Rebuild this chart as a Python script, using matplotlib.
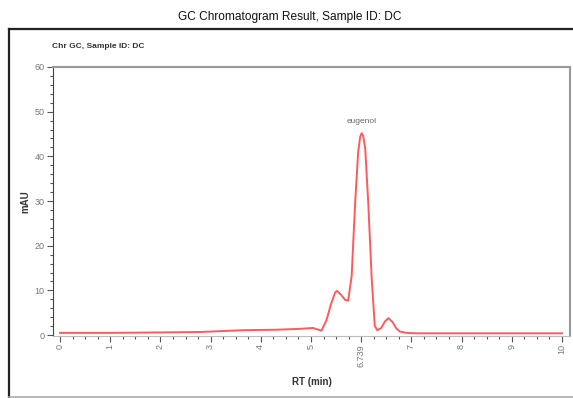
import matplotlib.pyplot as plt
from matplotlib.lines import Line2D
from matplotlib.ticker import MultipleLocator

# retention time (min) and signal (mAU)
rt = [0.0, 1.0, 2.0, 2.8, 3.65, 4.3, 4.78, 5.04, 5.12, 5.21, 5.31, 5.4, 5.48,
      5.52, 5.6, 5.68, 5.74, 5.81, 5.88, 5.94, 5.98, 6.01, 6.04, 6.08, 6.14,
      6.21, 6.27, 6.32, 6.4, 6.47, 6.54, 6.62, 6.7, 6.77, 6.9, 7.1, 8.0, 9.0,
      10.0]
mau = [0.5, 0.5, 0.6, 0.7, 1.1, 1.2, 1.4, 1.6, 1.3, 1.0, 3.4, 7.0, 9.5,
       9.9, 9.0, 7.9, 7.7, 13.2, 29.7, 41.0, 44.4, 45.2, 44.6, 41.8, 29.7,
       12.5, 2.1, 1.1, 1.6, 3.0, 3.8, 3.0, 1.5, 0.8, 0.5, 0.4, 0.4, 0.4, 0.4]

xticks = [0, 1, 2, 3, 4, 5, 6, 7, 8, 9, 10]
xticklabels = ['0', '1', '2', '3', '4', '5', '6.739', '7', '8', '9', '10']
yticks = [0, 10, 20, 30, 40, 50, 60]

peak_name = 'eugenol'
peak_pos = (6.0, 47.0)

plt.rcParams['font.family'] = ['Liberation Sans', 'DejaVu Sans']

fig = plt.figure(figsize=(5.73, 3.98), dpi=100)
fig.patch.set_facecolor('white')

# outer frame: dark left/top, light bottom
x0, y0, y1 = 9/573, 1.5/398, 1 - 29/398
fig.lines.append(Line2D([x0, x0], [y0, y1], transform=fig.transFigure,
                        color='#222222', linewidth=1.6))
fig.lines.append(Line2D([x0, 1], [y1, y1], transform=fig.transFigure,
                        color='#222222', linewidth=1.6))
fig.lines.append(Line2D([x0, 1], [y0, y0], transform=fig.transFigure,
                        color='#aaaaaa', linewidth=1.2))

fig.text(0.505, 1 - 17/398, 'GC Chromatogram Result, Sample ID: DC',
         ha='center', va='center', fontsize=8.6, color='#111111')
fig.text(52/573, 1 - 47/398, 'Chr GC, Sample ID: DC', ha='left', va='center',
         fontsize=6, fontweight='bold', color='#333333')

ax = fig.add_axes([53/573, 1 - 336/398, 517/573, 269/398])
ax.plot(rt, mau, color='#ff5a5a', linewidth=1.4)
ax.annotate(peak_name, peak_pos, ha='center', va='bottom', fontsize=6, color='#666666')

ax.set_xlim(-0.14, 10.16)
ax.set_ylim(-0.2, 60)
ax.set_xticks(xticks)
ax.set_xticklabels(xticklabels, rotation=90)
ax.set_yticks(yticks)
ax.xaxis.set_minor_locator(MultipleLocator(0.25))
ax.yaxis.set_minor_locator(MultipleLocator(2))
ax.tick_params(axis='both', which='major', labelsize=6.5, labelcolor='#777777',
               color='#555555', length=4, width=0.8, pad=2)
ax.tick_params(axis='both', which='minor', color='#555555', length=2, width=0.8)

for s in ['top', 'right']:
    ax.spines[s].set_color('#999999')
    ax.spines[s].set_linewidth(1.5)
ax.spines['bottom'].set_color('#bbbbbb')
ax.spines['left'].set_color('#444444')
ax.spines['left'].set_linewidth(0.8)

ax.set_ylabel('mAU', fontsize=7, fontweight='bold', color='#333333', labelpad=3)
ax.set_xlabel('RT (min)', fontsize=7, fontweight='bold', color='#333333', labelpad=7)

fig.savefig('out.png', dpi=100)
